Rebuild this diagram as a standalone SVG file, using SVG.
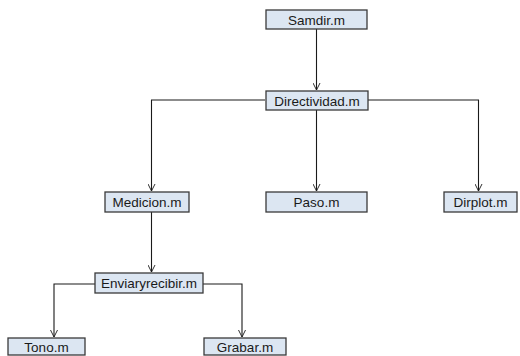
<svg xmlns="http://www.w3.org/2000/svg" width="520" height="356" viewBox="0 0 520 356">
<style>
.box{fill:#dce6f2;stroke:#3a3a3a;stroke-width:1.3}
.lbl{font-family:"Liberation Sans",Arial,sans-serif;font-size:13.5px;fill:#1a1a1a;text-anchor:middle}
.con{fill:none;stroke:#1a1a1a;stroke-width:1.1}
</style>
<defs>
<marker id="v" viewBox="0 0 10 10" refX="10" refY="5" markerWidth="7" markerHeight="8" markerUnits="userSpaceOnUse" orient="auto">
<path d="M0,0 L10,5 L0,10" fill="none" stroke="#1a1a1a" stroke-width="1.3"/>
</marker>
</defs>
<rect width="520" height="356" fill="#ffffff"/>
<g id="connectors">
<path class="con" d="M316.5,29 V90" marker-end="url(#v)"/>
<path class="con" d="M265,100 H151.5 V191" marker-end="url(#v)"/>
<path class="con" d="M316.5,110 V191" marker-end="url(#v)"/>
<path class="con" d="M368,100 H478.5 V191" marker-end="url(#v)"/>
<path class="con" d="M151.5,212 V272" marker-end="url(#v)"/>
<path class="con" d="M95,284 H54 V337" marker-end="url(#v)"/>
<path class="con" d="M203,284 H242 V337" marker-end="url(#v)"/>
</g>
<g id="samdir"><rect class="box" x="266" y="10" width="101" height="19"/><text class="lbl" x="316.5" y="24.5">Samdir.m</text></g>
<g id="directividad"><rect class="box" x="266" y="91" width="102" height="19"/><text class="lbl" x="317" y="105.5">Directividad.m</text></g>
<g id="medicion"><rect class="box" x="105" y="192" width="84" height="20"/><text class="lbl" x="147" y="207">Medicion.m</text></g>
<g id="paso"><rect class="box" x="266" y="192" width="101" height="20"/><text class="lbl" x="316.5" y="207">Paso.m</text></g>
<g id="dirplot"><rect class="box" x="444" y="192" width="73" height="20"/><text class="lbl" x="480.5" y="207">Dirplot.m</text></g>
<g id="enviaryrecibir"><rect class="box" x="95" y="273" width="108" height="20"/><text class="lbl" x="149" y="288">Enviaryrecibir.m</text></g>
<g id="tono"><rect class="box" x="8" y="338" width="77" height="17"/><text class="lbl" x="46.5" y="351.5">Tono.m</text></g>
<g id="grabar"><rect class="box" x="204" y="338" width="82" height="17"/><text class="lbl" x="245" y="351.5">Grabar.m</text></g>
</svg>
